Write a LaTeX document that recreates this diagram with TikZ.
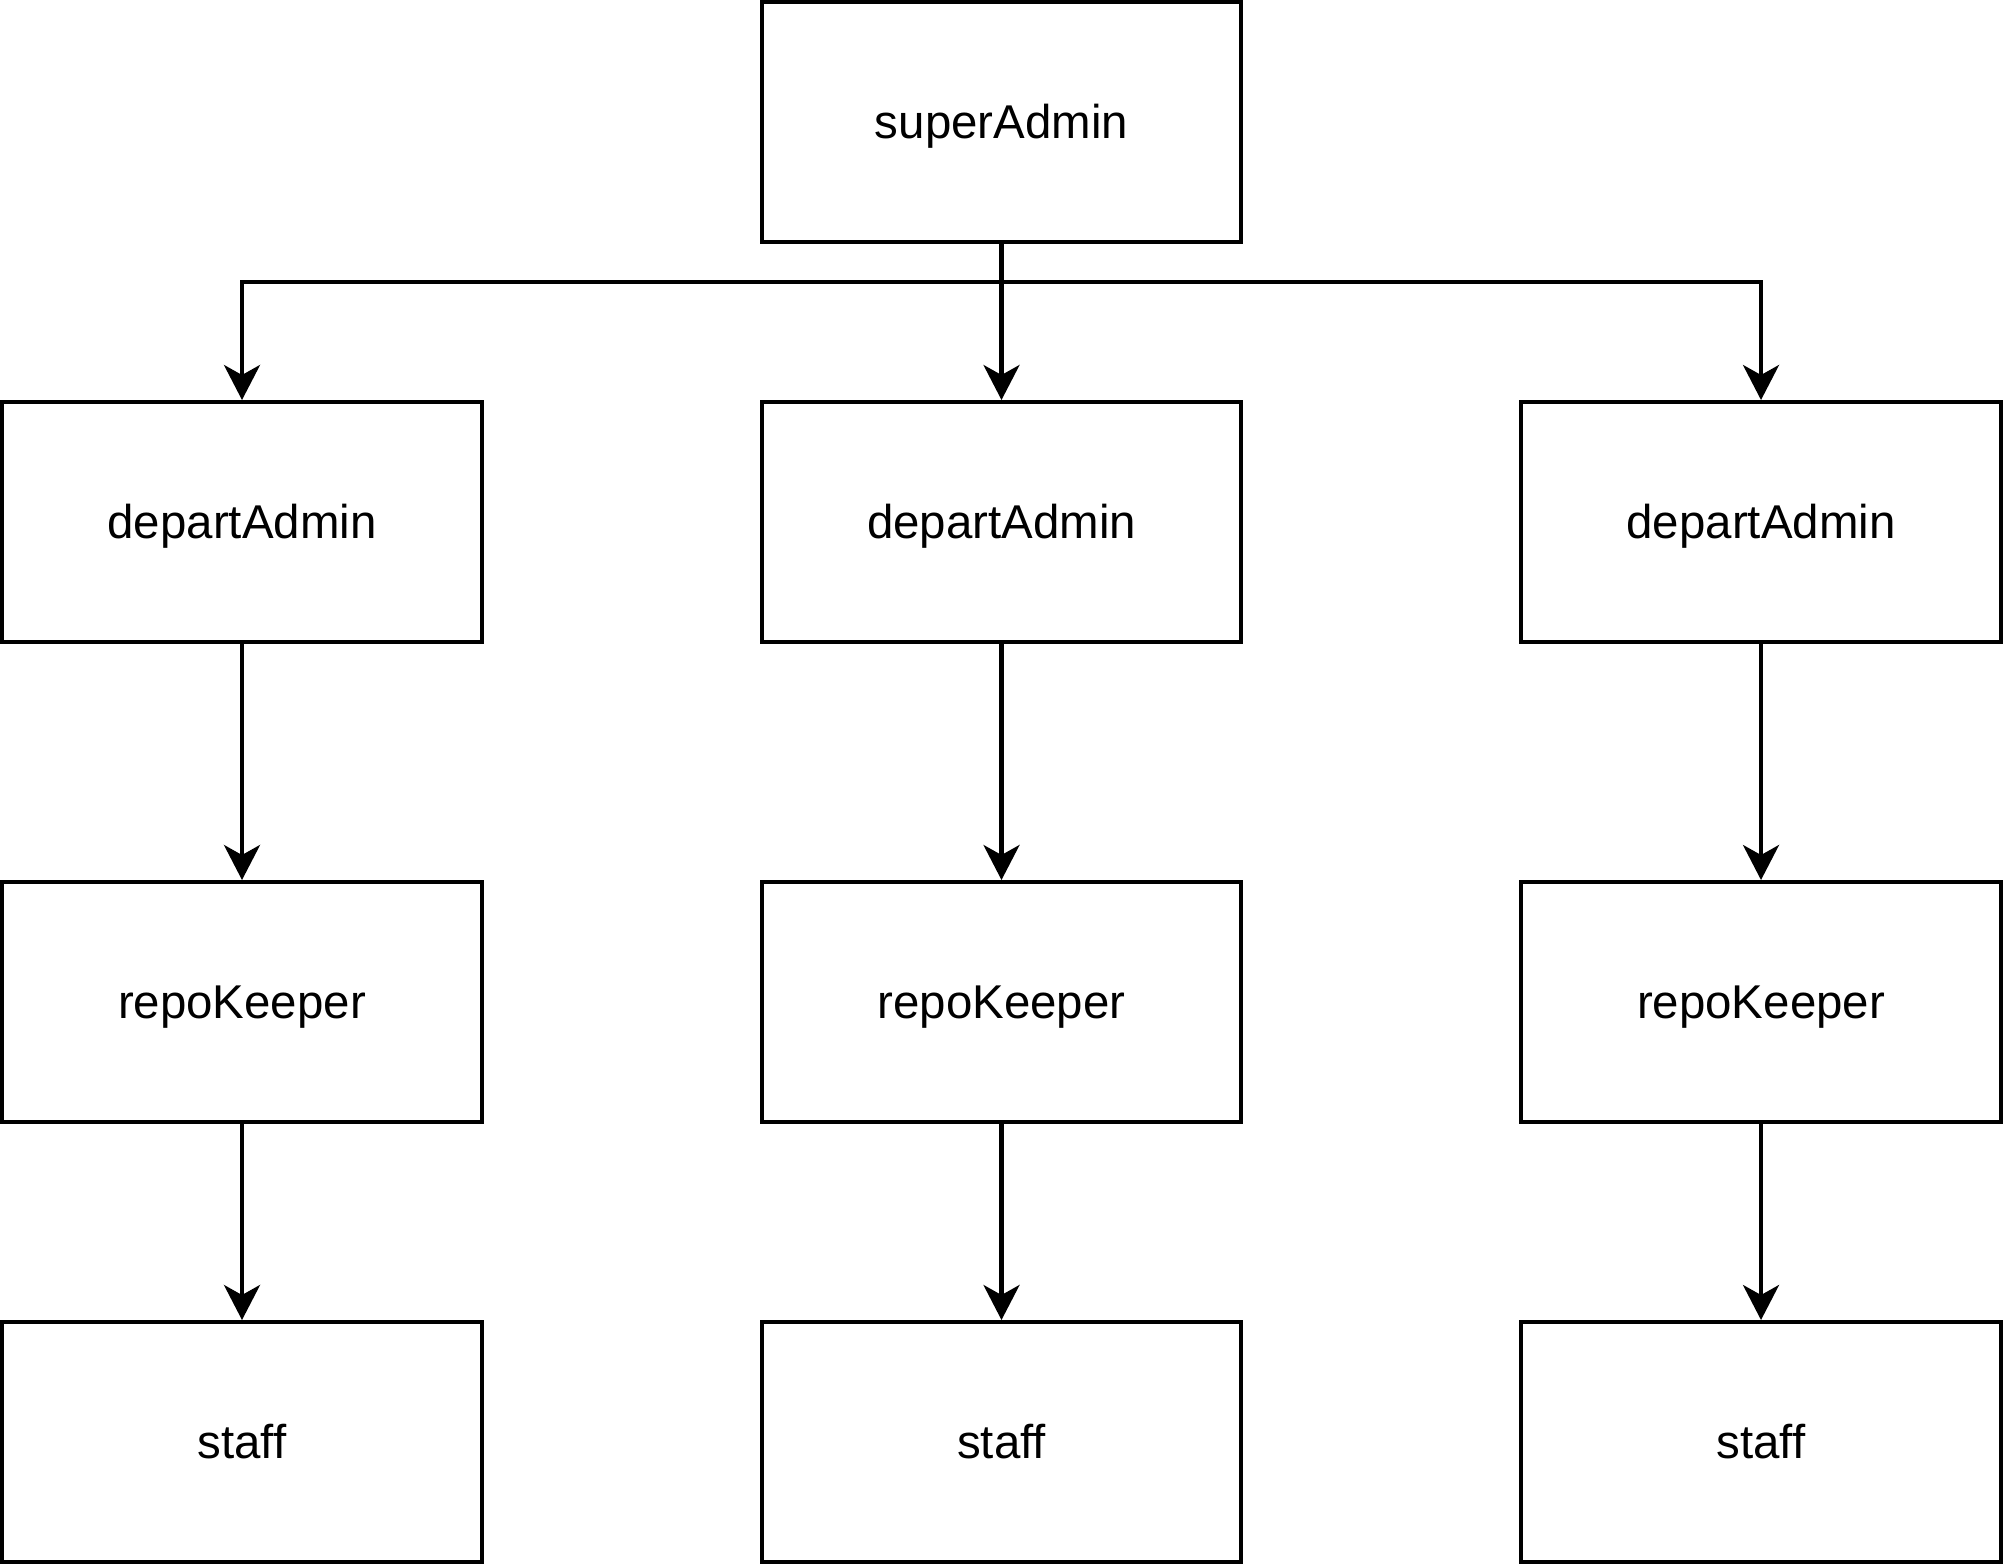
\documentclass[tikz,border=0pt]{standalone}
\usepackage{fontspec}
\setmainfont{Liberation Sans}
\usetikzlibrary{arrows.meta}
\tikzset{
  rolebox/.style={draw,rectangle,line width=2.3pt,inner sep=0pt,
    minimum width=9.6cm,minimum height=4.8cm,
    text height=19.3pt,text depth=0pt,
    font=\fontsize{27}{32}\selectfont},
  link/.style={line width=2.3pt,
    -{Stealth[length=0.7cm,width=0.72cm,inset=0.2cm]}}
}
\begin{document}
\begin{tikzpicture}[x=0.02cm,y=-0.02cm,line join=miter]
	\useasboundingbox (0,0) rectangle (2004,1564);
	\def\ya{122} \def\yb{522} \def\yc{1002} \def\yd{1442}
	\node[rolebox] (sa) at (1001.5,\ya) {superAdmin};
	\coordinate (bus) at (1001.5,282);
	\foreach \c/\x in {1/242,2/1001.5,3/1761}{
		\node[rolebox] (da\c) at (\x,\yb) {departAdmin};
		\node[rolebox] (rk\c) at (\x,\yc) {repoKeeper};
		\node[rolebox] (st\c) at (\x,\yd) {staff};
		\draw[link] (sa.south) -- (bus) -| (da\c.north);
		\draw[link] (da\c) -- (rk\c);
		\draw[link] (rk\c) -- (st\c);
	}
\end{tikzpicture}
\end{document}
